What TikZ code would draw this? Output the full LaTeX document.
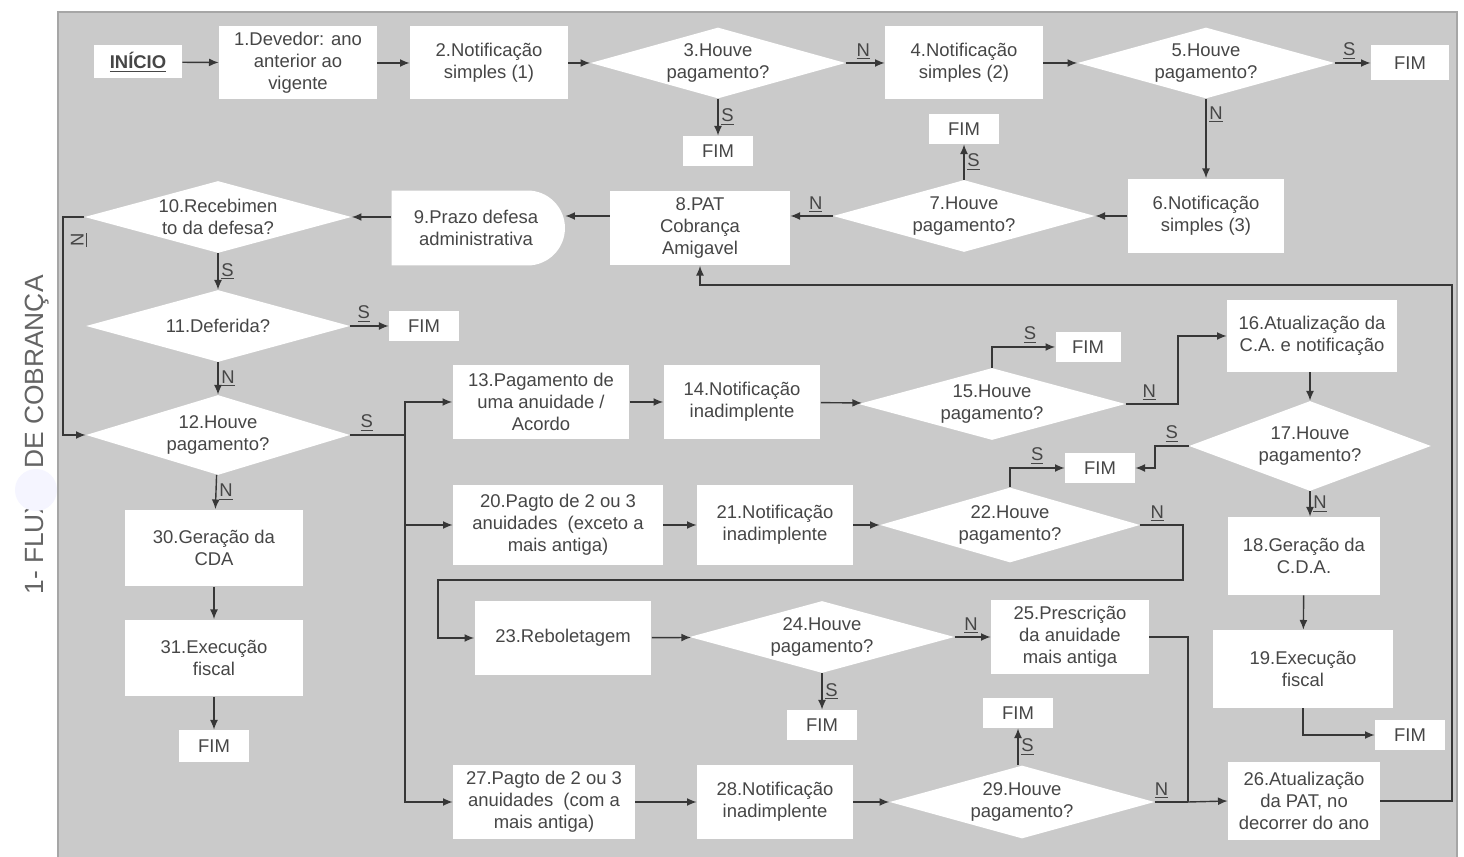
\documentclass[tikz,border=0pt]{standalone}
\usepackage{fontspec}
\setmainfont{Liberation Sans}
\usetikzlibrary{shapes.geometric,shapes.misc,arrows.meta}
\definecolor{bg}{RGB}{202,202,202}
\definecolor{txt}{RGB}{70,70,70}
\definecolor{ln}{RGB}{55,55,55}
\definecolor{ttl}{RGB}{100,100,100}
\tikzset{
  box/.style={fill=white, text=txt, align=center, inner sep=1pt,
    font=\fontsize{10.5}{12.5}\selectfont},
  dia/.style={diamond, fill=white, inner sep=0pt, shape aspect=3.6},
  dtext/.style={text=txt, align=center, inner sep=0pt,
    font=\fontsize{10.5}{12.5}\selectfont},
  fim/.style={box, minimum width=1.4cm, minimum height=0.6cm},
  conn/.style={draw=ln, line width=0.8pt},
  arr/.style={conn, -{Latex[length=5.5pt,width=4.5pt]}},
  lbl/.style={text=txt, font=\fontsize{10.5}{12}\selectfont, inner sep=1.5pt}
}
\newcommand{\ul}[1]{\underline{#1}}
\begin{document}
\begin{tikzpicture}[x=0.02cm,y=-0.02cm]
\useasboundingbox (0,0) rectangle (1464,857);
\fill[white] (0,0) rectangle (1464,857);
\fill[bg] (58,12) rectangle (1457,857);
\draw[gray!70, line width=0.6pt] (58,857) -- (58,12) -- (1457,12) -- (1457,857);
\node[rotate=90, text=ttl, font=\fontsize{15}{18}\selectfont] (title) at (37,435) {1- FLUXO DE COBRANÇA};
\fill[white!96!blue] (36,490) circle[radius=0.42cm];

% row 1
\node[box, minimum width=1.76cm, minimum height=0.66cm, font=\fontsize{10.5}{12.5}\selectfont\bfseries] (ini) at (138,62) {\ul{INÍCIO}};
\node[box, minimum width=3.16cm, minimum height=1.46cm] (n1) at (298,63) {1.Devedor: ano\\anterior ao\\vigente};
\node[box, minimum width=3.16cm, minimum height=1.46cm] (n2) at (489,63) {2.Notificação\\simples (1)};
\node[dia, minimum width=5.1cm, minimum height=1.42cm, label={[dtext]center:{3.Houve\\pagamento?}}] (d3) at (718,63) {};
\node[box, minimum width=3.16cm, minimum height=1.46cm] (n4) at (964,63) {4.Notificação\\simples (2)};
\node[dia, minimum width=5.14cm, minimum height=1.42cm, label={[dtext]center:{5.Houve\\pagamento?}}] (d5) at (1206,63) {};
\node[fim, minimum width=1.56cm, minimum height=0.7cm] (f5) at (1410,63) {FIM};
\node[fim] (f3) at (718,151) {FIM};
\node[fim] (f7) at (964,129) {FIM};

% row 2
\node[box, minimum width=3.14cm, minimum height=1.5cm] (n6) at (1206,216) {6.Notificação\\simples (3)};
\node[dia, minimum width=5.24cm, minimum height=1.44cm, label={[dtext]center:{7.Houve\\pagamento?}}] (d7) at (964,216) {};
\node[box, minimum width=3.6cm, minimum height=1.5cm] (n8) at (700,228) {8.PAT\\Cobrança\\Amigavel};
\node[rounded rectangle, rounded rectangle west arc=none, fill=white, text=txt, align=center,
  inner sep=1pt, font=\fontsize{10.5}{12.5}\selectfont,
  minimum width=3.54cm, minimum height=1.5cm] (n9) at (476,228) {9.Prazo defesa\\administrativa};
\node[dia, minimum width=5.34cm, minimum height=1.44cm, label={[dtext]center:{10.Recebimen\\to da defesa?}}] (d10) at (218,217) {};

% left column
\node[dia, minimum width=5.28cm, minimum height=1.44cm, label={[dtext]center:{11.Deferida?}}] (d11) at (218,326) {};
\node[fim] (f11) at (424,326) {FIM};
\node[dia, minimum width=5.28cm, minimum height=1.6cm, label={[dtext]center:{12.Houve\\pagamento?}}] (d12) at (218,435) {};
\node[box, minimum width=3.56cm, minimum height=1.54cm] (n30) at (214,548) {30.Geração da\\CDA};
\node[box, minimum width=3.56cm, minimum height=1.54cm] (n31) at (214,658) {31.Execução\\fiscal};
\node[fim, minimum height=0.64cm] (f31) at (214,746) {FIM};

% branch 13
\node[box, minimum width=3.54cm, minimum height=1.5cm] (n13) at (541,402) {13.Pagamento de\\uma anuidade /\\Acordo};
\node[box, minimum width=3.14cm, minimum height=1.5cm] (n14) at (742,402) {14.Notificação\\inadimplente};
\node[dia, minimum width=5.34cm, minimum height=1.44cm, label={[dtext]center:{15.Houve\\pagamento?}}] (d15) at (992,404) {};
\node[fim, minimum width=1.3cm] (f15) at (1088,347) {FIM};
\node[box, minimum width=3.4cm, minimum height=1.44cm] (n16) at (1312,336) {16.Atualização da\\C.A. e notificação};
\node[dia, minimum width=4.84cm, minimum height=1.8cm, label={[dtext]center:{17.Houve\\pagamento?}}] (d17) at (1310,446) {};
\node[fim, minimum width=1.4cm] (f17) at (1100,468) {FIM};
\node[box, minimum width=3.04cm, minimum height=1.56cm] (n18) at (1304,556) {18.Geração da\\C.D.A.};
\node[box, minimum width=3.6cm, minimum height=1.56cm] (n19) at (1303,669) {19.Execução\\fiscal};
\node[fim] (f19) at (1410,735) {FIM};

% branch 20
\node[box, minimum width=4.2cm, minimum height=1.6cm] (n20) at (558,525) {20.Pagto de 2 ou 3\\anuidades\ \ (exceto a\\mais antiga)};
\node[box, minimum width=3.12cm, minimum height=1.6cm] (n21) at (775,525) {21.Notificação\\inadimplente};
\node[dia, minimum width=5.2cm, minimum height=1.5cm, label={[dtext]center:{22.Houve\\pagamento?}}] (d22) at (1010,525) {};

% branch 23
\node[box, minimum width=3.54cm, minimum height=1.5cm] (n23) at (563,638) {23.Reboletagem};
\node[dia, minimum width=5.3cm, minimum height=1.44cm, label={[dtext]center:{24.Houve\\pagamento?}}] (d24) at (822,637) {};
\node[fim] (f24) at (822,725) {FIM};
\node[box, minimum width=3.16cm, minimum height=1.5cm] (n25) at (1070,637) {25.Prescrição\\da anuidade\\mais antiga};

% branch 27
\node[box, minimum width=3.64cm, minimum height=1.5cm] (n27) at (544,802) {27.Pagto de 2 ou 3\\anuidades\ \ (com a\\mais antiga)};
\node[box, minimum width=3.12cm, minimum height=1.5cm] (n28) at (775,802) {28.Notificação\\inadimplente};
\node[dia, minimum width=5.3cm, minimum height=1.46cm, label={[dtext]center:{29.Houve\\pagamento?}}] (d29) at (1022,802) {};
\node[fim] (f29) at (1018,713) {FIM};
\node[box, minimum width=3.04cm, minimum height=1.56cm] (n26) at (1304,801) {26.Atualização\\da PAT, no\\decorrer do ano};

% coordinates
\coordinate (c10) at (63,217);
\coordinate (tr) at (405,435);
\coordinate (c15) at (1178,404);
\coordinate (c17) at (1155,446);
\coordinate (c22a) at (1183,525);
\coordinate (c22b) at (1183,580);
\coordinate (c22c) at (438,580);
\coordinate (c25) at (1188,637);
\coordinate (j26) at (1188,802);
\coordinate (l1) at (1452,801);
\coordinate (l2) at (1452,285);

% connectors row 1
\draw[arr] (ini) -- (n1);
\draw[arr] (n1) -- (n2);
\draw[arr] (n2) -- (d3);
\draw[arr] (d3) -- node[lbl, above, pos=0.45] {\ul{N}} (n4);
\draw[arr] (n4) -- (d5);
\draw[arr] (d5) -- node[lbl, above, pos=0.4] {\ul{S}} (f5);
\draw[arr] (d3) -- node[lbl, right] {\ul{S}} (f3);
\draw[arr] (d5) -- node[lbl, right, pos=0.2] {\ul{N}} (n6);
% row 2
\draw[arr] (n6) -- (n6.west -| d7.east);
\draw[arr] (d7) -- node[lbl, right] {\ul{S}} (f7);
\draw[arr] (d7.west) -- node[lbl, above, pos=0.4] {\ul{N}} (d7.west -| n8.east);
\draw[arr] (n8.west |- d7.west) -- (n9.east |- d7.west);
\draw[arr] (n9.west |- d10.east) -- (d10.east);
\draw[arr] (d10) -- node[lbl, right] {\ul{S}} (d11);
\draw[arr] (d10.west) -- (c10) |- (d12.west);
\node[lbl, rotate=90] (lN10) at (79,240) {\ul{N}};
% left column
\draw[arr] (d11) -- node[lbl, above, pos=0.35] {\ul{S}} (f11);
\draw[arr] (d11) -- node[lbl, right] {\ul{N}} (d12);
\draw[arr] (d12) -- node[lbl, right] {\ul{N}} (n30);
\draw[arr] (n30) -- (n31);
\draw[arr] (n31) -- (f31);
% trunk from 12
\draw[conn] (d12.east) -- node[lbl, above, pos=0.3] {\ul{S}} (tr);
\draw[arr] (tr) |- (n13.west);
\draw[arr] (tr) |- (n20.west);
\draw[arr] (tr) |- (n27.west);
% branch 13
\draw[arr] (n13) -- (n14);
\draw[arr] (n14) -- (d15);
\draw[arr] (d15.north) |- node[lbl, above, pos=0.8] {\ul{S}} (f15.west);
\draw[arr] (d15.east) -- node[lbl, above, pos=0.45] {\ul{N}} (c15) |- (n16.west);
\draw[arr] (n16.south -| d17) -- (d17.north);
\draw[arr] (d17.west) -- node[lbl, above, pos=0.5] {\ul{S}} (c17) |- (f17.east);
\draw[arr] (d17) -- node[lbl, right] {\ul{N}} (n18.north -| d17);
\draw[arr] (n18) -- (n19);
\draw[arr] (n19.south) |- (f19.west);
% branch 20
\draw[arr] (n20) -- (n21);
\draw[arr] (n21) -- (d22);
\draw[arr] (d22.north) |- node[lbl, above, pos=0.75] {\ul{S}} (f17.west);
\draw[arr] (d22.east) -- node[lbl, above, pos=0.4] {\ul{N}} (c22a) -- (c22b) -- (c22c) |- (n23.west);
% branch 23
\draw[arr] (n23) -- (d24);
\draw[arr] (d24) -- node[lbl, right] {\ul{S}} (f24);
\draw[arr] (d24) -- node[lbl, above, pos=0.45] {\ul{N}} (n25);
\draw[conn] (n25.east) -- (c25) -- (j26);
% branch 27
\draw[arr] (n27) -- (n28);
\draw[arr] (n28) -- (d29);
\draw[arr] (d29.north -| f29) -- node[lbl, right] {\ul{S}} (f29);
\draw[conn] (d29.east) -- node[lbl, above, pos=0.2] {\ul{N}} (j26);
\draw[arr] (j26) -- (n26.west);
% loop back to 8
\draw[arr] (n26.east) -- (l1) -- (l2) -| (n8.south);
\end{tikzpicture}
\end{document}
